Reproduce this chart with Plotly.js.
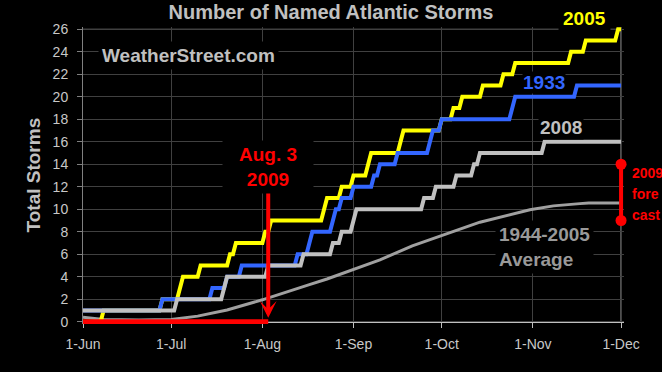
<!DOCTYPE html>
<html><head><meta charset="utf-8">
<script src="https://cdn.plot.ly/plotly-3.0.1.min.js"></script>
<style>html,body{margin:0;padding:0;background:#000;}#chart{width:662px;height:372px;}</style>
</head><body><div id="chart"></div>
<script>
// ---------- data ----------
const seasonYear = '2009';
const monthTicks = ['06-01','07-01','08-01','09-01','10-01','11-01','12-01'];
const tickLabels = ['1-Jun','1-Jul','1-Aug','1-Sep','1-Oct','1-Nov','1-Dec'];
const yTicks = [0,2,4,6,8,10,12,14,16,18,20,22,24,26];

// 2005: storm count reached on each date (0 on 1-Jun)
const start2005 = 0;
const dates2005 = ['06-08','06-28','07-04','07-05','07-11','07-21','07-23','08-02','08-04','08-22','08-23','08-28','09-01','09-06','09-07','09-17','09-18','10-01','10-05','10-08','10-15','10-22','10-26','11-14','11-19','11-30'];
const counts2005 = [1,2,3,4,5,6,7,8,9,10,11,12,13,14,15,16,17,18,19,20,21,22,23,24,25,26];

// 1933 (1 on 1-Jun)
const start1933 = 1;
const dates1933 = ['06-28','07-15','07-20','07-25','08-13','08-17','08-18','08-25','08-26','08-28','09-01','09-08','09-10','09-16','09-27','09-28','10-01','10-25','10-26','11-16'];
const counts1933 = [2,3,4,5,6,7,8,9,10,11,12,13,14,15,16,17,18,19,20,21];

// 2008 (1 on 1-Jun)
const start2008 = 1;
const dates2008 = ['07-03','07-19','07-20','08-03','08-15','08-25','08-28','09-01','09-02','09-25','09-29','10-06','10-12','10-14','11-05'];
const counts2008 = [2,3,4,5,6,7,8,9,10,11,12,13,14,15,16];

// 1944-2005 average
const avgDates  = ['06-01','06-08','06-20','07-01','07-10','07-20','08-01','08-11','08-17','08-23','08-29','09-04','09-10','09-21','10-01','10-14','10-31','11-08','11-17','11-20','12-01'];
const avgValues = [0.4,0.2,0.15,0.2,0.5,1.05,1.95,2.75,3.3,3.8,4.35,4.9,5.5,6.75,7.65,8.85,9.95,10.3,10.5,10.55,10.55];

// 2009 so far and forecast range
const dates2009 = ['06-01','08-03'];
const values2009 = [0,0];
const forecastDate = '12-01';
const forecastRange = [9,14];

// ---------- helpers ----------
const FONT = 'Liberation Sans, Arial, sans-serif';
const full = md => seasonYear + '-' + md;
function dayBefore(md){
  const d = new Date(Date.UTC(+seasonYear, +md.slice(0,2)-1, +md.slice(3,5)));
  d.setUTCDate(d.getUTCDate()-1);
  return d.toISOString().slice(0,10);
}
function stepLine(start, dates, counts){
  const x=[full('06-01')], y=[start];
  dates.forEach((md,i)=>{
    const prev = i ? counts[i-1] : start;
    x.push(dayBefore(md)); y.push(prev);
    x.push(full(md)); y.push(counts[i]);
  });
  x.push(full('12-01')); y.push(counts[counts.length-1]);
  return {x,y};
}

const L=83, R=38, T=27, B=48, W=662, H=372;
const PW=W-L-R, PH=H-T-B;
const fx = px => (px-L)/PW;
const fy = py => (H-B-py)/PH;

const s05 = stepLine(start2005, dates2005, counts2005);
const s33 = stepLine(start1933, dates1933, counts1933);
const s08 = stepLine(start2008, dates2008, counts2008);

const traces = [
  {x: avgDates.map(full), y: avgValues, mode:'lines', line:{color:'#a0a0a0', width:3}},
  {x: s05.x, y: s05.y, mode:'lines', line:{color:'#ffff00', width:4}},
  {x: s33.x, y: s33.y, mode:'lines', line:{color:'#3366ff', width:4}},
  {x: s08.x, y: s08.y, mode:'lines', line:{color:'#c0c0c0', width:4}},
  {x: dates2009.map(full), y: values2009, mode:'lines', line:{color:'#ff0000', width:5}},
  {x: forecastRange.map(()=>full(forecastDate)), y: forecastRange, mode:'lines+markers',
   line:{color:'#ff0000', width:4}, marker:{color:'#ff0000', size:11}, cliponaxis:false}
];

const lab = (text, px, py, color, extra) => Object.assign({
  text, xref:'paper', yref:'paper', x: fx(px), y: fy(py), showarrow:false,
  xanchor:'center', yanchor:'middle',
  font:{family:FONT, size:19, color, weight:'bold'}, bgcolor:'#000', borderpad:2
}, extra||{});
const redSmall = {family:FONT, size:14, color:'#ff0000', weight:'bold'};

const annotations = [
  lab('WeatherStreet.com', 188, 55, '#c0c0c0', {borderpad:3}),
  lab('2005', 584, 19, '#ffff00', {borderpad:4}),
  lab('1933', 543.5, 82, '#3366ff', {borderpad:0}),
  lab('2008', 561, 127, '#c0c0c0', {borderpad:1}),
  lab('1944-2005<br>Average', 495, 246.5, '#999999', {xanchor:'left', align:'left', borderpad:3}),
  {text:'Aug. 3<br>2009', xref:'x', yref:'y', x: full('08-03'), y: 0,
   axref:'x', ayref:'y', ax: full('08-03'), ay: 13.75, showarrow:true,
   arrowcolor:'#ff0000', arrowwidth:4, arrowhead:3, arrowsize:0.7, standoff:4,
   font:{family:FONT, size:19, color:'#ff0000', weight:'bold'},
   bgcolor:'#000', borderpad:3, width:84},
  lab('2009', 631, 173, '#ff0000', {xanchor:'left', bgcolor:'rgba(0,0,0,0)', borderpad:0, font:redSmall}),
  lab('fore', 631, 194, '#ff0000', {xanchor:'left', bgcolor:'rgba(0,0,0,0)', borderpad:0, font:redSmall}),
  lab('cast', 631, 215, '#ff0000', {xanchor:'left', bgcolor:'rgba(0,0,0,0)', borderpad:0, font:redSmall}),
  lab('Total Storms', 33, 175.5, '#c0c0c0', {textangle:-90, bgcolor:'rgba(0,0,0,0)'})
];

const layout = {
  width:W, height:H,
  margin:{l:L, r:R, t:T, b:B, pad:0},
  paper_bgcolor:'#000', plot_bgcolor:'#000',
  showlegend:false, hovermode:false,
  title:{text:'Number of Named Atlantic Storms', xref:'container', x:0.5, xanchor:'center',
         yref:'container', y:1-12/H, yanchor:'middle',
         font:{family:FONT, size:20, color:'#c0c0c0', weight:'bold'}},
  xaxis:{type:'date', range:[full('06-01'), '2009-12-02'],
         tickvals: monthTicks.map(full), ticktext: tickLabels,
         ticks:'outside', ticklen:5, tickcolor:'#c0c0c0', tickwidth:1,
         showline:true, linecolor:'#c0c0c0', linewidth:1,
         anchor:'free', position:0.2/26.4,
         showgrid:true, gridcolor:'#404040', gridwidth:1, zeroline:false,
         tickfont:{family:FONT, size:14, color:'#c8c8c8'}, ticklabelstandoff:4,
         layer:'below traces', fixedrange:true},
  yaxis:{range:[-0.2, 26.2], tickvals:yTicks,
         ticks:'outside', ticklen:5, tickcolor:'#808080', tickwidth:1,
         showline:true, linecolor:'#808080', linewidth:1,
         showgrid:true, gridcolor:'#404040', gridwidth:1, zeroline:false,
         tickfont:{family:FONT, size:14, color:'#c8c8c8'}, ticklabelstandoff:6,
         layer:'below traces', fixedrange:true},
  shapes:[
    {type:'line', xref:'x', yref:'y', x0:full('06-01'), x1:full('12-01'), y0:26, y1:26, line:{color:'#808080', width:1}, layer:'below'},
    {type:'line', xref:'x', yref:'y', x0:full('12-01'), x1:full('12-01'), y0:0, y1:26, line:{color:'#b0b0b0', width:1}, layer:'below'}
  ],
  annotations
};

Plotly.newPlot('chart', traces, layout, {staticPlot:true, displayModeBar:false});
</script>
</body></html>
